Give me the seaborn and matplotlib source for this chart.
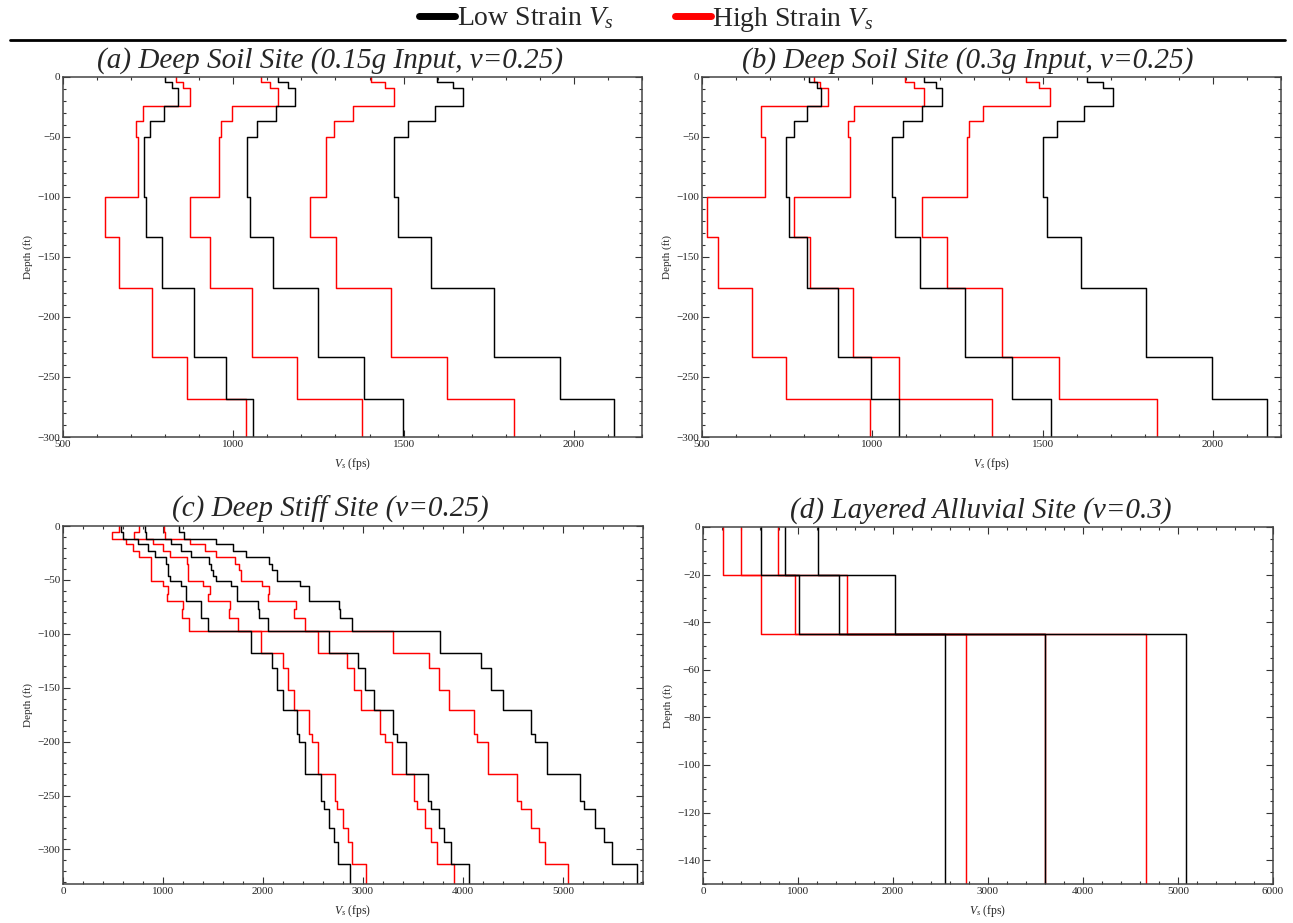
import matplotlib
matplotlib.use("Agg")
import matplotlib.pyplot as plt
from matplotlib.lines import Line2D
from matplotlib.ticker import MultipleLocator
import pandas as pd
import seaborn as sns

# ---------------------------------------------------------------
# Shear-wave velocity profiles (Vs in fps, depth in ft, negative down)
# ---------------------------------------------------------------

# (a) and (b): deep soil site, layer boundaries
deep_soil_depths = [0, -4, -9, -24, -37, -50, -100, -133, -176, -233, -268, -300]

a_low = [
    [800, 821, 838, 797, 756, 738, 743, 791, 884, 979, 1058],
    [1130, 1162, 1182, 1124, 1070, 1041, 1050, 1118, 1249, 1385, 1498],
    [1598, 1645, 1673, 1592, 1512, 1471, 1485, 1581, 1766, 1958, 2117],
]
a_high = [
    [832, 851, 872, 735, 715, 719, 623, 665, 762, 865, 1038],
    [1081, 1108, 1130, 997, 963, 957, 873, 932, 1056, 1186, 1377],
    [1404, 1444, 1471, 1352, 1295, 1271, 1224, 1303, 1463, 1628, 1825],
]

b_low = [
    [814, 837, 850, 809, 771, 747, 756, 807, 899, 997, 1079],
    [1152, 1186, 1206, 1146, 1090, 1059, 1068, 1140, 1273, 1411, 1526],
    [1631, 1677, 1707, 1623, 1541, 1501, 1514, 1612, 1803, 1997, 2159],
]
b_high = [
    [829, 845, 869, 674, 672, 685, 515, 548, 647, 747, 994],
    [1096, 1122, 1151, 945, 929, 936, 770, 818, 944, 1078, 1351],
    [1451, 1489, 1521, 1324, 1283, 1277, 1146, 1218, 1380, 1547, 1835],
]

# (c): deep stiff site, layer boundaries
stiff_depths = [0, -6, -12, -17, -23, -29, -35, -41, -46, -51, -56, -63.5, -70,
                -77, -85, -97, -117.6, -131.6, -151.7, -170.5, -192.6, -200.3,
                -230.3, -255, -262, -280, -293, -313, -332]

c_low = [
    [580, 598, 748, 853, 916, 1028, 1047, 1047, 1066, 1178, 1234, 1234, 1384,
     1384, 1447,
     1881, 2087, 2139, 2195, 2337, 2356, 2420, 2580, 2610, 2655, 2711, 2749, 2872],
    [815, 830, 1077, 1178, 1279, 1458, 1477, 1496, 1526, 1683, 1739, 1739, 1945,
     1963, 2046,
     2663, 2954, 3022, 3111, 3298, 3340, 3429, 3654, 3684, 3758, 3814, 3882, 4065],
    [1159, 1208, 1526, 1702, 1832, 2064, 2087, 2143, 2143, 2367, 2461, 2461, 2760,
     2767, 2891,
     3770, 4181, 4282, 4405, 4675, 4720, 4843, 5168, 5209, 5318, 5411, 5490, 5740],
]
c_high = [
    [561, 494, 628, 703, 759, 879, 879, 879, 879, 998, 1047, 1036, 1197,
     1189, 1260,
     1982, 2199, 2251, 2311, 2457, 2494, 2550, 2722, 2737, 2797, 2850, 2891, 3029],
    [755, 711, 898, 1002, 1073, 1242, 1253, 1253, 1253, 1402, 1466, 1451, 1672,
     1664, 1750,
     2554, 2842, 2909, 2984, 3171, 3216, 3291, 3515, 3541, 3616, 3684, 3740, 3908],
    [1010, 1021, 1271, 1421, 1533, 1720, 1758, 1784, 1784, 1993, 2064, 2049, 2326,
     2311, 2423,
     3302, 3665, 3758, 3863, 4106, 4140, 4252, 4544, 4581, 4675, 4757, 4824, 5049],
]

# (d): layered alluvial site, layer boundaries
alluvial_depths = [0, -20, -45, -150]

d_low = [
    [610, 1011, 2543],
    [859, 1431, 3597],
    [1213, 2018, 5082],
]
d_high = [
    [214, 615, 2772],
    [401, 965, 3597],
    [789, 1520, 4662],
]

panel_titles = [
    "(a) Deep Soil Site (0.15g Input, v=0.25)",
    "(b) Deep Soil Site (0.3g Input, v=0.25)",
    "(c) Deep Stiff Site (v=0.25)",
    "(d) Layered Alluvial Site (v=0.3)",
]
legend_labels = [r"Low Strain $V_s$", r"High Strain $V_s$"]
strain_colors = {"low": "#000000", "high": "#ff0000"}

# ---------------------------------------------------------------
sns.set_theme(style="ticks")
plt.rcParams["font.family"] = ["Liberation Serif", "DejaVu Serif"]
plt.rcParams["mathtext.fontset"] = "custom"
plt.rcParams["mathtext.rm"] = "Liberation Serif"
plt.rcParams["mathtext.it"] = "Liberation Serif:italic"
plt.rcParams["axes.unicode_minus"] = True


def step_frame(depths, profiles, strain):
    """Turn layered Vs profiles into step-line vertices."""
    rows = []
    for pid, vs in enumerate(profiles):
        order = 0
        for i, v in enumerate(vs):
            for d in (depths[i], depths[i + 1]):
                rows.append({"vs": v, "depth": d, "profile": f"{strain}{pid}",
                             "order": order, "strain": strain})
                order += 1
    return pd.DataFrame(rows)


def draw_panel(ax, depths, low, high):
    for strain, profiles in (("high", high), ("low", low)):
        df = step_frame(depths, profiles, strain)
        sns.lineplot(data=df, x="vs", y="depth", units="profile",
                     estimator=None, sort=False, color=strain_colors[strain],
                     lw=1.05, ax=ax, legend=False)


def style_axes(ax, xlim, ylim, xmaj, xmin, ymaj, ymin, title, title_x):
    ax.set_xlim(*xlim)
    ax.set_ylim(*ylim)
    ax.xaxis.set_major_locator(MultipleLocator(xmaj))
    ax.xaxis.set_minor_locator(MultipleLocator(xmin))
    ax.yaxis.set_major_locator(MultipleLocator(ymaj))
    ax.yaxis.set_minor_locator(MultipleLocator(ymin))
    ax.tick_params(which="both", direction="in", top=True, right=True,
                   labelsize=8, pad=2, color="#333333", width=0.8)
    ax.tick_params(which="major", length=5)
    ax.tick_params(which="minor", length=2.5)
    for s in ax.spines.values():
        s.set_visible(True)
        s.set_color("#444444")
        s.set_linewidth(1.1)
    ax.set_xlabel(r"$V_s$ (fps)", fontsize=8.5, labelpad=5)
    ax.set_ylabel("Depth (ft)", fontsize=8, labelpad=3)
    # titles are centred over the whole panel including its tick labels
    ax.set_title(title, fontsize=21, style="italic", pad=7, x=title_x)


fig = plt.figure(figsize=(12.93, 9.23), dpi=100)
W, H = 1293, 923


def add_axes(left, right, top, bottom):
    return fig.add_axes([left / W, 1 - bottom / H, (right - left) / W,
                         (bottom - top) / H])


ax_a = add_axes(63, 642, 77, 437)
ax_b = add_axes(702, 1281, 77, 437)
ax_c = add_axes(63, 643, 526, 884)
ax_d = add_axes(703, 1273, 527, 884)

draw_panel(ax_a, deep_soil_depths, a_low, a_high)
style_axes(ax_a, (500, 2200), (-300, 0), 500, 100, 50, 10, panel_titles[0], 0.462)

draw_panel(ax_b, deep_soil_depths, b_low, b_high)
style_axes(ax_b, (500, 2200), (-300, 0), 500, 100, 50, 10, panel_titles[1], 0.459)

draw_panel(ax_c, stiff_depths, c_low, c_high)
style_axes(ax_c, (0, 5800), (-332, 0), 1000, 200, 50, 10, panel_titles[2], 0.461)

draw_panel(ax_d, alluvial_depths, d_low, d_high)
style_axes(ax_d, (0, 6000), (-150, 0), 1000, 200, 20, 5, panel_titles[3], 0.488)

# legend across the top, with a rule beneath it
handles = [Line2D([], [], color=strain_colors["low"], lw=5),
           Line2D([], [], color=strain_colors["high"], lw=5)]
fig.legend(handles, legend_labels, loc="center", bbox_to_anchor=(0.5, 1 - 19 / H),
           ncol=2, frameon=False, fontsize=20, handlelength=1.3,
           handletextpad=0.05, columnspacing=2.2, borderaxespad=0)
fig.add_artist(Line2D([10 / W, 1285 / W], [1 - 40 / H, 1 - 40 / H],
                      color="black", lw=2))

fig.savefig("out.png", dpi=100)
